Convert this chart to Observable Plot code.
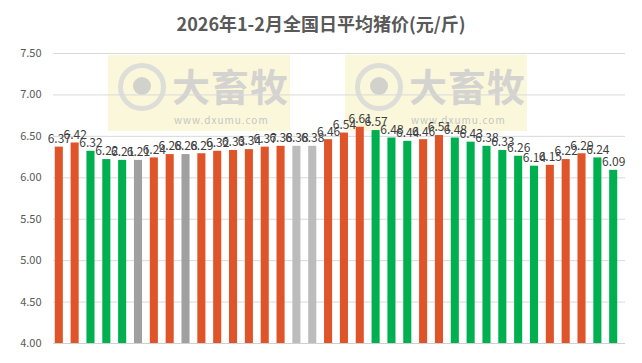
<!DOCTYPE html>
<html>
<head>
<meta charset="utf-8">
<script src="https://cdn.jsdelivr.net/npm/d3@7"></script>
<script src="https://cdn.jsdelivr.net/npm/@observablehq/plot@0.6"></script>
<style>
  html, body { margin: 0; padding: 0; background: #fff; }
  #wrap { position: relative; width: 642px; height: 363px; overflow: hidden; font-family: "Noto Sans CJK SC", "Noto Sans", sans-serif; }
  #title { height: 40px; line-height: 46px; text-align: center; font-size: 18px; font-weight: bold; color: #595959; }
  .wm { position: absolute; top: 55px; width: 182px; height: 76px; background: rgba(246, 240, 190, 0.55); }
  .wm .logo { position: absolute; left: 10px; top: 8px; width: 48px; height: 48px; border-radius: 50%; border: 5px solid rgba(215,215,215,0.8); box-sizing: border-box; }
  .wm .logo::after { content: ""; position: absolute; left: 10px; top: 9px; width: 18px; height: 18px; border-radius: 50%; background: rgba(200,200,200,0.8); }
  .wm .cn { position: absolute; left: 64px; top: 2px; font-size: 38px; font-weight: bold; color: rgba(205,205,205,0.85); letter-spacing: 1px; }
  .wm .url { position: absolute; left: 66px; top: 57px; font-size: 10px; color: rgba(190,190,190,0.9); letter-spacing: 1px; }
  #chart { position: relative; }
</style>
</head>
<body>
<div id="wrap">
  <div class="wm" style="left:108px"><div class="logo"></div><div class="cn">大畜牧</div><div class="url">www.dxumu.com</div></div>
  <div class="wm" style="left:345px"><div class="logo"></div><div class="cn">大畜牧</div><div class="url">www.dxumu.com</div></div>
  <div id="title">2026年1-2月全国日平均猪价(元/斤)</div>
  <div id="chart"></div>
</div>
<script>
const days = d3.range(1, 37);
const prices = [6.37, 6.42, 6.32, 6.22, 6.21, 6.21, 6.24, 6.28, 6.28, 6.29,
                6.32, 6.33, 6.34, 6.37, 6.38, 6.38, 6.38, 6.46, 6.54, 6.61,
                6.57, 6.48, 6.44, 6.46, 6.51, 6.48, 6.43, 6.38, 6.33, 6.26,
                6.14, 6.15, 6.22, 6.29, 6.24, 6.09];
const trend = ["up", "up", "down", "down", "down", "flat", "up", "up", "flat", "up",
               "up", "up", "up", "up", "up", "holiday", "holiday", "up", "up", "up",
               "down", "down", "down", "up", "up", "down", "down", "down", "down", "down",
               "down", "up", "up", "up", "down", "down"];
const yTicks = [4.0, 4.5, 5.0, 5.5, 6.0, 6.5, 7.0, 7.5];
const trendNames = ["up", "down", "flat", "holiday"];
const trendColors = ["#e0542a", "#00b050", "#a0a0a0", "#bcbcbc"];

const data = days.map((d, i) => ({day: d, price: prices[i], trend: trend[i]}));

const chart = Plot.plot({
  width: 642,
  height: 323,
  marginTop: 13,
  marginBottom: 20,
  marginLeft: 47,
  marginRight: 17,
  style: {fontFamily: "'Noto Sans CJK SC', 'Noto Sans', sans-serif", background: "transparent"},
  x: {type: "band", domain: days, padding: 0.49, round: false, axis: null},
  y: {domain: [4, 7.5], ticks: yTicks, tickFormat: d3.format(".2f"), label: null},
  color: {domain: trendNames, range: trendColors},
  marks: [
    Plot.gridY(yTicks, {stroke: "#d9d9d9", strokeOpacity: 1, insetLeft: 6}),
    Plot.axisY(yTicks, {tickSize: 0, tickPadding: 6, fontSize: 11, fill: "#595959", tickFormat: d3.format(".2f"), label: null}),
    Plot.barY(data, {x: "day", y1: 4, y2: "price", fill: "trend"}),
    Plot.ruleY([4], {stroke: "#d0d0d0", insetLeft: 6}),
    Plot.text(data, {x: "day", y: "price", text: d => d.price.toFixed(2), dy: -8, fontSize: 12, fill: "#404040"})
  ]
});
document.getElementById("chart").appendChild(chart);
</script>
</body>
</html>
